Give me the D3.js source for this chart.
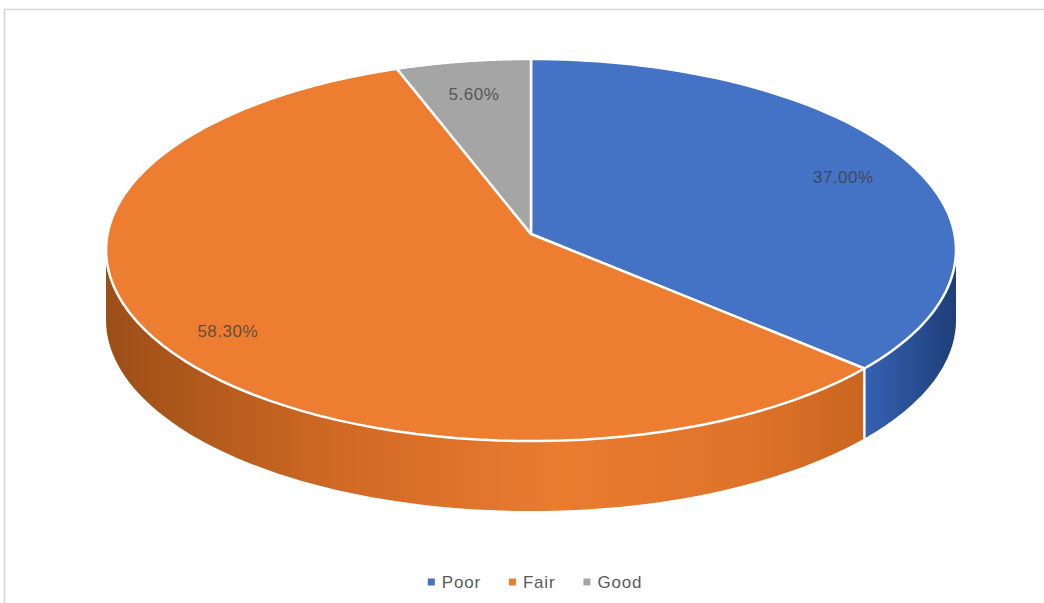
<!DOCTYPE html>
<html>
<head>
<meta charset="utf-8">
<script src="https://cdn.jsdelivr.net/npm/d3@7"></script>
<style>
  html, body { margin: 0; padding: 0; background: #ffffff; }
  svg { display: block; }
</style>
</head>
<body>
<svg id="chart" width="1044" height="603"></svg>
<script>
// ---- data ----
const categories = ["Poor", "Fair", "Good"];
const values = [37.00, 58.30, 5.60];
const valueLabels = ["37.00%", "58.30%", "5.60%"];
const colors = ["#4472C4", "#ED7D31", "#A5A5A5"];
const sideStops = [
  [["0%", "#3462b3"], ["100%", "#1f3e78"]],
  [["0%", "#9c4e17"], ["30%", "#cf6923"], ["60%", "#ea7c30"], ["85%", "#de7329"], ["100%", "#c9661f"]],
  [["0%", "#8a8a8a"], ["100%", "#6f6f6f"]]
];

// ---- geometry ----
const svg = d3.select("#chart");
const W = 1044, H = 603;

// frame
svg.append("rect")
  .attr("x", 4.5).attr("y", 9.5).attr("width", 1100).attr("height", 700)
  .attr("fill", "#ffffff").attr("stroke", "#d4d4d4").attr("stroke-width", 1.5);

const cx = 531, cy = 234;      // projected pie centre
const A = 423.5, B = 189.7;    // projected radii
const k = 0.0838;              // perspective factor
const depth = 70;

// project point on unit disk (angle clockwise from top, radius r)
function P(theta, r = 1, dy = 0) {
  const u = Math.sin(theta) * r;
  const v = -Math.cos(theta) * r;
  const d = 1 - k * v;
  return [cx + A * u / d, cy + B * v / d + dy];
}

const pie = d3.pie().sort(null).value(d => d.value);
const arcs = pie(categories.map((c, i) => ({ cat: c, value: values[i], i })));

const line = d3.line();
const defs = svg.append("defs");

// visible front range (silhouette extremes at v = k)
const thR = Math.acos(-k);          // right extreme
const thL = 2 * Math.PI - thR;       // left extreme

const N = 80;
function sample(a, b, r, dy) {
  const pts = [];
  for (let j = 0; j <= N; j++) {
    const t = a + (b - a) * j / N;
    pts.push(P(t, r, dy));
  }
  return pts;
}

// ---- sides ----
const sideG = svg.append("g");
arcs.forEach(a => {
  const s = Math.max(a.startAngle, thR);
  const e = Math.min(a.endAngle, thL);
  if (e <= s) return;
  const top = sample(s, e, 1, 0);
  const bot = sample(e, s, 1, depth);
  const xs = top.map(p => p[0]);
  const gid = "side" + a.data.i;
  const g = defs.append("linearGradient").attr("id", gid)
    .attr("gradientUnits", "userSpaceOnUse")
    .attr("x1", d3.min(xs)).attr("x2", d3.max(xs)).attr("y1", 0).attr("y2", 0);
  let stops = sideStops[a.data.i];
  // fair side: dark at left, lighter centre, slightly darker right
  g.selectAll("stop").data(stops).enter().append("stop")
    .attr("offset", d => d[0]).attr("stop-color", d => d[1]);
  sideG.append("path")
    .attr("d", line(top.concat(bot)) + "Z")
    .attr("fill", `url(#${gid})`);
});
// slice borders on the side
arcs.forEach(a => {
  const t = a.endAngle;
  if (t > thR && t < thL) {
    const p0 = P(t), p1 = P(t, 1, depth);
    sideG.append("line")
      .attr("x1", p0[0]).attr("y1", p0[1]).attr("x2", p1[0]).attr("y2", p1[1])
      .attr("stroke", "#ffffff").attr("stroke-width", 2.5);
  }
});

// ---- top faces ----
const topG = svg.append("g");
arcs.forEach(a => {
  const pts = [[cx, cy]].concat(sample(a.startAngle, a.endAngle, 1, 0));
  topG.append("path")
    .attr("d", line(pts) + "Z")
    .attr("fill", colors[a.data.i])
    .attr("stroke", "#ffffff")
    .attr("stroke-width", 2.5)
    .attr("stroke-linejoin", "round");
});

// ---- labels ----
const labG = svg.append("g");
arcs.forEach(a => {
  const mid = (a.startAngle + a.endAngle) / 2;
  const p = P(mid, 0.83, 6);
  labG.append("text")
    .attr("x", p[0]).attr("y", p[1])
    .attr("text-anchor", "middle")
    .attr("dominant-baseline", "central")
    .attr("font-family", "Liberation Sans, Arial, sans-serif")
    .attr("font-size", 17)
    .attr("letter-spacing", 0.5)
    .attr("fill", "#404040")
    .attr("fill-opacity", 0.8)
    .text(valueLabels[a.data.i]);
});

// ---- legend ----
const legG = svg.append("g");
const items = [];
let xPos = 0;
categories.forEach((c, i) => {
  const g = legG.append("g");
  g.append("rect").attr("x", 0).attr("y", -3.5).attr("width", 7).attr("height", 7)
    .attr("fill", colors[i]);
  const t = g.append("text").attr("x", 14).attr("y", 0)
    .attr("dominant-baseline", "central")
    .attr("font-family", "Liberation Sans, Arial, sans-serif")
    .attr("font-size", 17)
    .attr("letter-spacing", 0.8)
    .attr("fill", "#595959")
    .text(c);
  const w = 14 + t.node().getComputedTextLength();
  g.attr("transform", `translate(${xPos},0)`);
  xPos += w + 28;
});
const totalW = xPos - 28;
legG.attr("transform", `translate(${535 - totalW / 2}, 582)`);
</script>
</body>
</html>
